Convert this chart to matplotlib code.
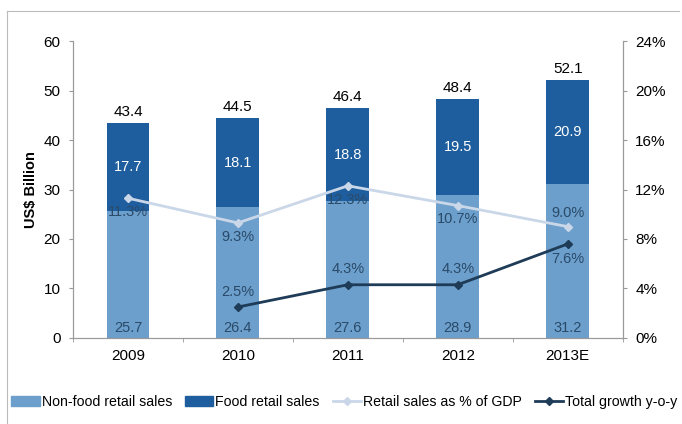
import matplotlib
matplotlib.use("Agg")
import matplotlib.pyplot as plt
import numpy as np
from matplotlib.patches import Patch
from matplotlib.lines import Line2D

years = ["2009", "2010", "2011", "2012", "2013E"]
non_food = [25.7, 26.4, 27.6, 28.9, 31.2]
food = [17.7, 18.1, 18.8, 19.5, 20.9]
totals = [43.4, 44.5, 46.4, 48.4, 52.1]
gdp_share = [11.3, 9.3, 12.3, 10.7, 9.0]
growth_years = ["2010", "2011", "2012", "2013E"]
growth = [2.5, 4.3, 4.3, 7.6]

C_NONFOOD = "#6c9fcb"
C_FOOD = "#1f5e9e"
C_GDP = "#cad7e8"
C_GROWTH = "#1e3b58"
C_LABEL = "#2a4a6a"

plt.rcParams["font.family"] = ["Liberation Sans", "DejaVu Sans"]

fig = plt.figure(figsize=(6.82, 4.24), dpi=100)
ax = fig.add_axes([0.107, 0.203, 0.806, 0.700])
ax2 = ax.twinx()

x = np.arange(len(years))
w = 0.39
ax.bar(x, non_food, w, color=C_NONFOOD, zorder=2)
ax.bar(x, food, w, bottom=non_food, color=C_FOOD, zorder=2)

for i in range(len(years)):
    ax.text(x[i], 2.0, f"{non_food[i]:.1f}", ha="center", va="center",
            fontsize=10.5, color=C_LABEL)
    ax.text(x[i], non_food[i] + food[i] / 2, f"{food[i]:.1f}", ha="center",
            va="center", fontsize=10.5, color="white")
    ax.text(x[i], totals[i] + 0.8, f"{totals[i]:.1f}", ha="center",
            va="bottom", fontsize=11, color="black")

ax.set_xlim(-0.5, len(years) - 0.5)
ax.set_ylim(0, 60)
ax.set_yticks(range(0, 61, 10))
ax.set_xticks(x)
ax.set_xticklabels(years)
ax.set_xticks(np.arange(-0.5, len(years), 1.0), minor=True)
ax.tick_params(axis="x", which="major", length=0, pad=8, labelsize=11)
ax.tick_params(axis="x", which="minor", length=3, color="#999999")
ax.tick_params(axis="y", length=3, color="#999999", labelsize=11, pad=6)
ax.set_ylabel("US$ Billion", fontsize=10.5, fontweight="bold", labelpad=4)

for a in (ax, ax2):
    a.spines["top"].set_visible(False)
    for s in ("left", "right", "bottom"):
        a.spines[s].set_color("#9a9a9a")
        a.spines[s].set_linewidth(0.8)

ax2.set_ylim(0, 24)
ax2.set_yticks(range(0, 25, 4))
ax2.set_yticklabels([f"{v}%" for v in range(0, 25, 4)])
ax2.tick_params(axis="y", length=3, color="#999999", labelsize=11, pad=6)

gx = [years.index(y) for y in growth_years]
ax2.plot(x, gdp_share, color=C_GDP, lw=2, marker="D", ms=4, zorder=3)
ax2.plot(gx, growth, color=C_GROWTH, lw=2, marker="D", ms=4, zorder=4)

# percentage labels, placed above or below each point
gdp_off = [-1, -1, -1, -1, 1]
for i, v in enumerate(gdp_share):
    ax2.annotate(f"{v:.1f}%", (x[i], v), xytext=(0, 10 * gdp_off[i]),
                 textcoords="offset points", ha="center", va="center",
                 fontsize=10.5, color=C_LABEL)
growth_off = [1, 1, 1, -1]
for i, v in enumerate(growth):
    ax2.annotate(f"{v:.1f}%", (gx[i], v), xytext=(0, 11 * growth_off[i]),
                 textcoords="offset points", ha="center", va="center",
                 fontsize=10.5, color=C_LABEL)

handles = [
    Patch(color=C_NONFOOD, label="Non-food retail sales"),
    Patch(color=C_FOOD, label="Food retail sales"),
    Line2D([], [], color=C_GDP, lw=2, marker="D", ms=4,
           label="Retail sales as % of GDP"),
    Line2D([], [], color=C_GROWTH, lw=2, marker="D", ms=4,
           label="Total growth y-o-y"),
]
fig.legend(handles=handles, loc="center", bbox_to_anchor=(0.505, 0.052),
           ncol=4, frameon=False, fontsize=10.2, handlelength=2.0,
           handleheight=0.7, handletextpad=0.15, columnspacing=0.9)

# thin frame around the figure
fig.add_artist(Line2D([0.01, 0.995], [0.975, 0.975], color="#bbbbbb", lw=0.8,
                      transform=fig.transFigure))
fig.add_artist(Line2D([0.01, 0.01], [0.0, 0.975], color="#bbbbbb", lw=0.8,
                      transform=fig.transFigure))

fig.savefig("out.png", dpi=100)
